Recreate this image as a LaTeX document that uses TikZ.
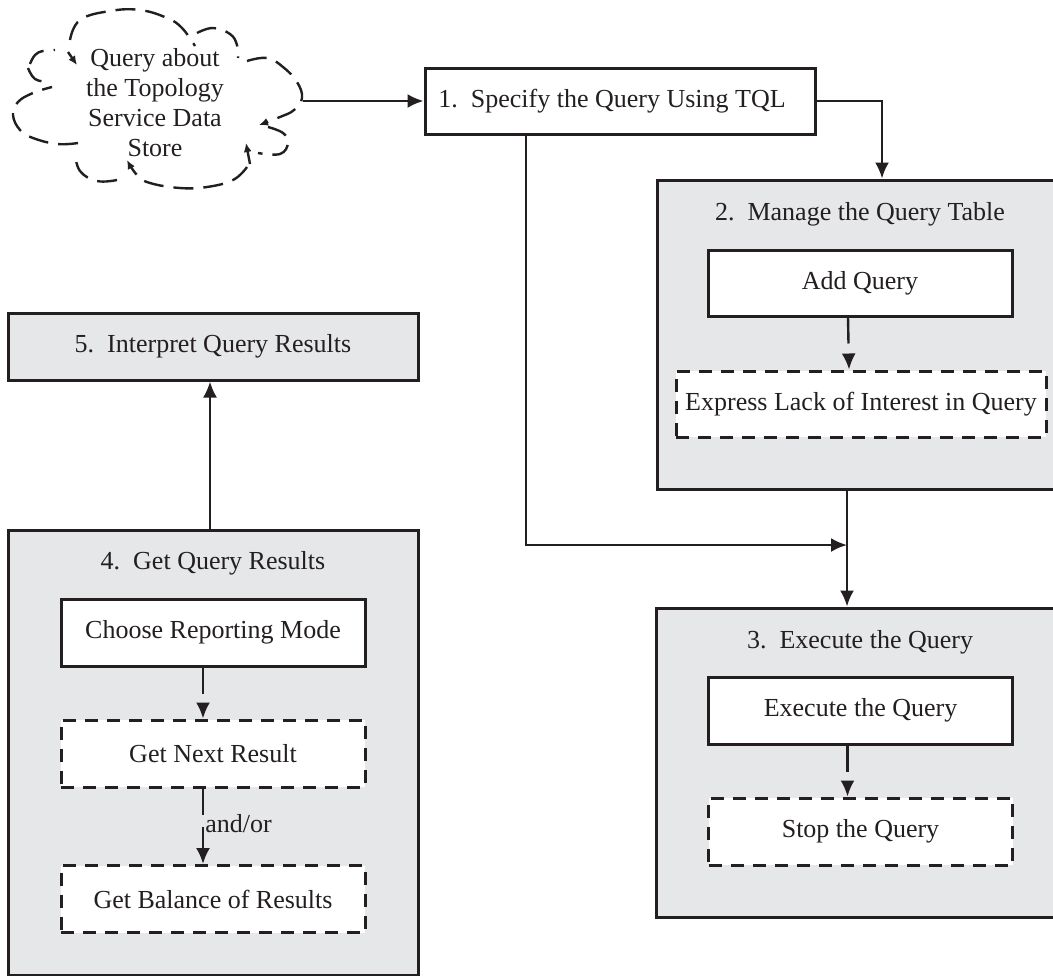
\documentclass[tikz,border=0pt]{standalone}
\usepackage{fontspec}
\setmainfont{Liberation Serif}
\usetikzlibrary{arrows.meta,calc}
\definecolor{ink}{HTML}{231F20}
\definecolor{panel}{HTML}{E6E7E8}
\begin{document}
\begin{tikzpicture}[x=0.5pt,y=-0.5pt,
  txt/.style={font=\fontsize{13}{15}\selectfont, text=ink},
  box/.style={txt, draw=ink, line width=1.5pt, fill=white, inner sep=0pt, minimum width=152pt, minimum height=33.5pt},
  dbox/.style={box, dash pattern=on 6.5pt off 4.5pt},
  panelbox/.style={draw=ink, line width=1.5pt, fill=panel, inner sep=0pt},
  arr/.style={draw=ink, line width=1.2pt, -{Latex[length=8pt,width=7pt]}},
  darr/.style={arr, dash pattern=on 13pt off 6pt},
  cloudline/.style={draw=ink, line width=1.2pt, dash pattern=on 10pt off 5pt},
  cloudarr/.style={cloudline, -{Latex[length=4.5pt,width=4pt]}}
]
\useasboundingbox (0,0) rectangle (1053,975);

% cloud outline
\draw[cloudline] plot[smooth, tension=0.7] coordinates {(70,40) (80,20) (110,11) (140,10) (167,18) (182,28) (195,46)};
\draw[cloudline] plot[smooth, tension=0.7] coordinates {(197,33) (213,28) (230,34) (237,45) (238,58)};
\draw[cloudarr] plot[smooth, tension=0.7] coordinates {(247,61) (267,58) (283,67) (297,82) (302,98) (294,110) (280,117) (259,125)};
\draw[cloudline] plot[smooth, tension=0.7] coordinates {(268,127) (283,133) (288,143) (280,154) (258,153)};
\draw[cloudarr] (250,164) -- (246,143);
\draw[cloudarr] plot[smooth, tension=0.7] coordinates {(247,167) (233,180) (207,187) (180,188) (150,183) (137,175) (127,160)};
\draw[cloudline] plot[smooth, tension=0.7] coordinates {(117,180) (97,181) (80,171) (75,153)};
\draw[cloudline] plot[smooth, tension=0.7] coordinates {(78,143) (57,144) (33,138) (20,130) (13,115) (18,102) (33,93) (52,87)};
\draw[cloudline] plot[smooth, tension=0.7] coordinates {(28,68) (35,79) (48,82)};
\draw[cloudline] plot[smooth, tension=0.7] coordinates {(30,64) (35,55) (43,51) (55,50)};
\draw[cloudarr] (68,52) -- (77,65);
\node[txt, align=center, inner sep=0pt] (cloud) at (155,103) {Query about\\the Topology\\Service Data\\Store};
\coordinate (cloudE) at (303,101);

% panels
\node[panelbox, minimum width=203pt, minimum height=154.5pt] (p2) at (860,334.5) {};
\node[panelbox, minimum width=204pt, minimum height=154.5pt] (p3) at (860,762.5) {};
\node[panelbox, txt, minimum width=205pt, minimum height=33.5pt] (p5) at (213,346.5) {5.\ \ Interpret Query Results};
\node[panelbox, minimum width=205pt, minimum height=222.5pt] (p4) at (213,752.5) {};

% titles
\node[txt] (t2) at (860,214) {2.\ \ Manage the Query Table};
\node[txt] (t3) at (860,642) {3.\ \ Execute the Query};
\node[txt] (t4) at (213,563) {4.\ \ Get Query Results};

% boxes
\node[box, minimum width=195pt, minimum height=33pt] (b1) at (620,101) {1.\ \ Specify the Query Using TQL\hspace*{8pt}};
\node[box, minimum height=33pt] (addq) at (860,283) {Add Query};
\node[dbox, minimum width=185pt, minimum height=33pt] (lack) at (861,404) {Express Lack of Interest in Query};
\node[box] (exec) at (860.5,710.5) {Execute the Query};
\node[dbox] (stop) at (860.5,831.5) {Stop the Query};
\node[box] (choose) at (213,632.5) {Choose Reporting Mode};
\node[dbox] (next) at (213,753.5) {Get Next Result};
\node[dbox] (bal) at (213,899) {Get Balance of Results};

% connectors
\draw[arr] (cloudE) -- (cloudE -| b1.west);
\draw[arr] (b1.east) -| ([xshift=11pt]p2.north);
\coordinate (merge) at (847,545);
\draw[arr] ([xshift=-47pt]b1.south) |- (merge);
\draw[arr] ([xshift=-6.5pt]p2.south) -- ([xshift=-6.5pt]p3.north);
\draw[arr] ([xshift=-1.5pt]p4.north) -- ([xshift=-1.5pt]p5.south);
\draw[darr] ([xshift=-6pt]addq.south) -- ([xshift=-6pt]lack.north);
\draw[darr] ([xshift=-6.5pt]exec.south) -- ([xshift=-6.5pt]stop.north);
\draw[darr] ([xshift=-5pt]choose.south) -- ([xshift=-5pt]next.north);
\draw[darr] ([xshift=-5pt]next.south) -- ([xshift=-5pt]bal.north);
\node[txt, anchor=base west, inner sep=0pt] (andor) at (205,832) {and/or};
\end{tikzpicture}
\end{document}
